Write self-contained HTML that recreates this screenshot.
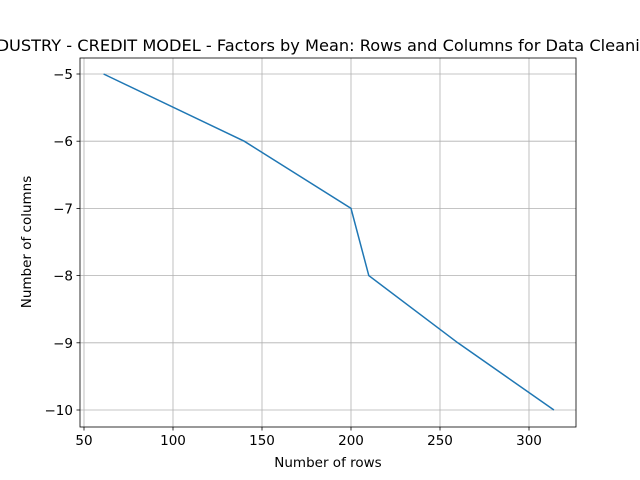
<!DOCTYPE html>
<html><head><meta charset="utf-8"><style>
html,body{margin:0;padding:0;background:#fff;width:640px;height:480px;overflow:hidden}
text{font-family:"DejaVu Sans","Liberation Sans",sans-serif;fill:#000}
</style></head><body>
<svg id="chart" width="640" height="480" xmlns="http://www.w3.org/2000/svg">
<text x="320" y="51" text-anchor="middle" font-size="16.2">INDUSTRY - CREDIT MODEL - Factors by Mean: Rows and Columns for Data Cleaning</text>
<g id="grid"></g><g id="ticks"></g>
<polyline id="series" fill="none" stroke="#1f77b4" stroke-width="1.5"/>
<rect x="80" y="58" width="496" height="369" fill="none" stroke="#000" stroke-width="0.8"/>
<text x="328" y="467" text-anchor="middle" font-size="13.5">Number of rows</text>
<text transform="translate(31,242) rotate(-90)" text-anchor="middle" font-size="13.5">Number of columns</text>
</svg>
<script>
const rows = [61, 140, 200, 210, 260, 314];
const cols = [-5, -6, -7, -8, -9, -10];
const xTicks = [50, 100, 150, 200, 250, 300];
const yTicks = [-5, -6, -7, -8, -9, -10];
const NS = "http://www.w3.org/2000/svg";
function xs(v){return 84 + (v - 50) * 1.78;}
function ys(v){return 74 + (-5 - v) * 67.2;}
const grid = document.getElementById('grid'), ticks = document.getElementById('ticks');
function mk(tag, attrs, parent){const e=document.createElementNS(NS,tag);for(const k in attrs)e.setAttribute(k,attrs[k]);parent.appendChild(e);return e;}
xTicks.forEach(t=>{
  const x=xs(t);
  const g=mk('line',{x1:x,x2:x,y1:58,y2:427,stroke:'#b0b0b0','stroke-width':0.8},grid);
  
  
  mk('line',{x1:x,x2:x,y1:427,y2:430.5,stroke:'#000','stroke-width':0.8},ticks);
  const l=mk('text',{x:x,y:445,'text-anchor':'middle','font-size':13.5},ticks);
  l.textContent=t;
  
  
});
yTicks.forEach(t=>{
  const y=ys(t);
  const g=mk('line',{x1:80,x2:576,y1:y,y2:y,stroke:'#b0b0b0','stroke-width':0.8},grid);
  
  
  mk('line',{x1:76.5,x2:80,y1:y,y2:y,stroke:'#000','stroke-width':0.8},ticks);
  const l=mk('text',{x:73,y:y+5,'text-anchor':'end','font-size':13.5},ticks);
  l.textContent='\u2212'+Math.abs(t);
  
  
});
document.getElementById('series').setAttribute('points', rows.map((r,i)=>xs(r)+','+ys(cols[i])).join(' '));
</script>
</body></html>
